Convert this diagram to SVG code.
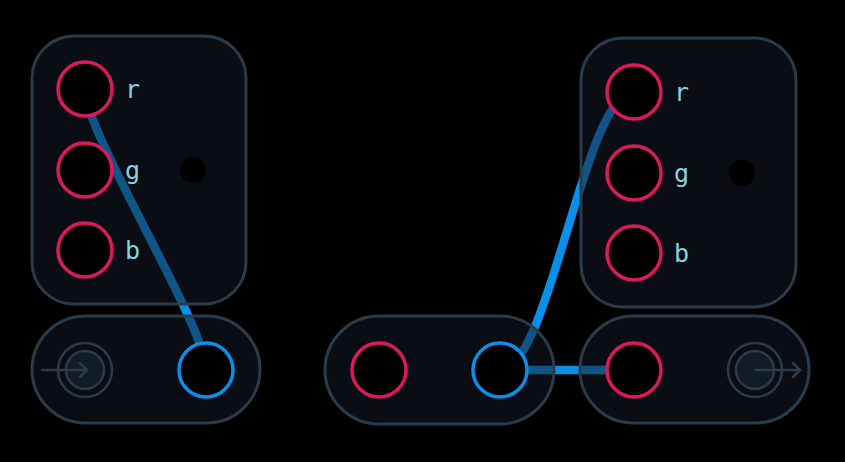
<svg xmlns="http://www.w3.org/2000/svg" width="845" height="462" viewBox="0 0 845 462">
<style>
.box{fill:rgba(20,28,40,0.5);stroke:#2b3b49;stroke-width:3}
.in{fill:#000;stroke:#dc1a5b;stroke-width:3.5}
.out{fill:#000;stroke:#0b8fe8;stroke-width:3.5}
.dot{fill:#000}
.lbl{font-family:"DejaVu Sans Mono",monospace;font-size:25px;fill:#86d3df}
.wire{fill:none;stroke:#0a8fe8;stroke-width:8.5}
.ico{fill:none;stroke:#2b3b49;stroke-width:2.5}
.icoin{fill:#111c26;stroke:#2b3b49;stroke-width:2.5}
.arr{fill:none;stroke:#2b3b49;stroke-width:2.5;stroke-linecap:round;stroke-linejoin:round}
</style>
<rect width="845" height="462" fill="#000"/>
<g id="connectors">
<path class="wire" d="M85,89 C85,134 206,325 206,370"/>
<path class="wire" d="M500,370 C550,370 584,92 634,92"/>
<path class="wire" d="M500,370 L634,370"/>
</g>
<g id="node-rgb-left">
<rect class="box" x="32" y="36" width="214" height="268" rx="42"/>
<circle class="in" cx="85" cy="89" r="27"/>
<circle class="in" cx="85" cy="170" r="27"/>
<circle class="in" cx="85" cy="250" r="27"/>
<text class="lbl" x="125" y="98">r</text>
<text class="lbl" x="125" y="179">g</text>
<text class="lbl" x="125" y="259">b</text>
<circle class="dot" cx="193" cy="170" r="13"/>
</g>
<g id="node-input">
<rect class="box" x="32" y="316" width="228" height="107" rx="53.5"/>
<circle class="ico" cx="85" cy="370" r="27"/>
<circle class="icoin" cx="85" cy="370" r="19"/>
<path class="arr" d="M42,370 H87 M80,363 L87,370 L80,377"/>
<circle class="out" cx="206" cy="370" r="27"/>
</g>
<g id="node-middle">
<rect class="box" x="325" y="316" width="229" height="108" rx="54"/>
<circle class="in" cx="379" cy="370" r="27"/>
<circle class="out" cx="500" cy="370" r="27"/>
</g>
<g id="node-output">
<rect class="box" x="580" y="316" width="229" height="107" rx="53.5"/>
<circle class="in" cx="634" cy="370" r="27"/>
<circle class="ico" cx="755" cy="370" r="27"/>
<circle class="icoin" cx="755" cy="370" r="19"/>
<path class="arr" d="M755,370 H800 M793,363 L800,370 L793,377"/>
</g>
<g id="node-rgb-right">
<rect class="box" x="581" y="38" width="215" height="269" rx="42"/>
<circle class="in" cx="634" cy="92" r="27"/>
<circle class="in" cx="634" cy="173" r="27"/>
<circle class="in" cx="634" cy="253" r="27"/>
<text class="lbl" x="674" y="101">r</text>
<text class="lbl" x="674" y="182">g</text>
<text class="lbl" x="674" y="262">b</text>
<circle class="dot" cx="742" cy="173" r="13"/>
</g>
</svg>
